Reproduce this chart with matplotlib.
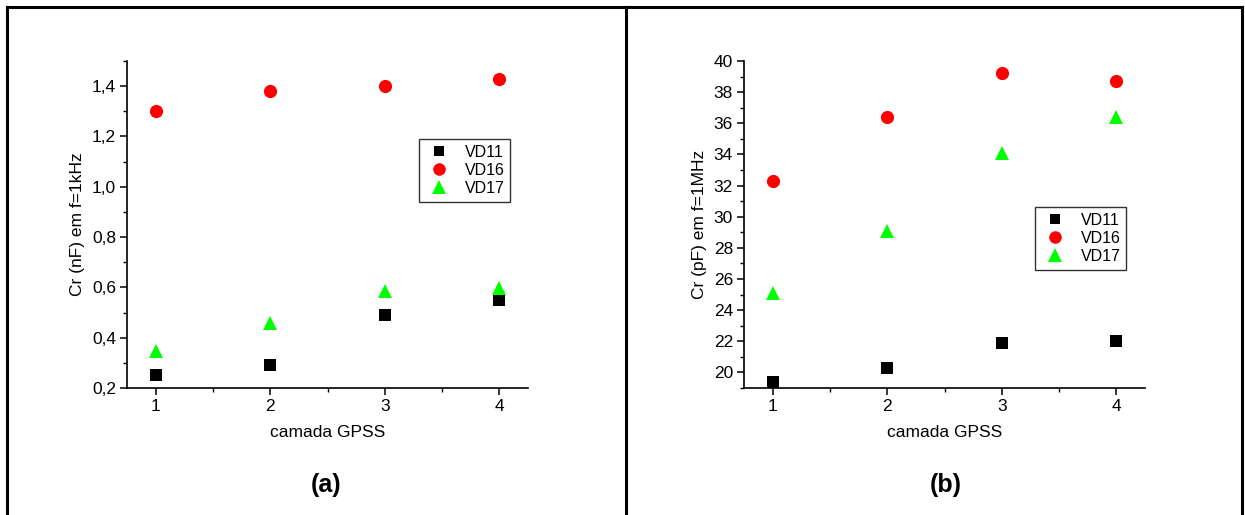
import matplotlib.pyplot as plt
from matplotlib.ticker import FuncFormatter, MultipleLocator
from matplotlib.lines import Line2D

plt.rcParams['font.family'] = ['Liberation Sans', 'DejaVu Sans']

camada = [1, 2, 3, 4]
series_names = ["VD11", "VD16", "VD17"]

# (a) Cr (nF) at 1 kHz
a_vd11 = [0.25, 0.29, 0.49, 0.55]
a_vd16 = [1.30, 1.38, 1.40, 1.43]
a_vd17 = [0.347, 0.457, 0.586, 0.596]

# (b) Cr (pF) at 1 MHz
b_vd11 = [19.4, 20.3, 21.9, 22.0]
b_vd16 = [32.3, 36.4, 39.2, 38.7]
b_vd17 = [25.1, 29.1, 34.1, 36.4]

W, H = 1245, 515
fig = plt.figure(figsize=(W / 100, H / 100), dpi=100)

# outer frame and separator
top = 1 - 7 / H
fig.add_artist(Line2D([7 / W, 1242 / W], [top, top], color='black', lw=2.2))
for xp in (7, 626, 1242):
    fig.add_artist(Line2D([xp / W, xp / W], [0, top], color='black', lw=2.2))


def ax_rect(left, right, top, bottom):
    return [left / W, 1 - bottom / H, (right - left) / W, (bottom - top) / H]


styles = [dict(marker='s', color='black', ms=8),
          dict(marker='o', color='#ff0000', ms=9.5),
          dict(marker='^', color='#00ff00', ms=10)]


def draw(ax, data, ylim, major, minor, fmt, ylabel, leg_anchor):
    for name, vals, st in zip(series_names, data, styles):
        ax.plot(camada, vals, linestyle='none', marker=st['marker'],
                color=st['color'], markersize=st['ms'], markeredgewidth=0,
                label=name)
    ax.set_xlim(0.75, 4.25)
    ax.set_ylim(*ylim)
    ax.set_xticks(camada)
    ax.xaxis.set_minor_locator(MultipleLocator(0.5))
    ax.yaxis.set_major_locator(MultipleLocator(major))
    ax.yaxis.set_minor_locator(MultipleLocator(minor))
    ax.yaxis.set_major_formatter(FuncFormatter(fmt))
    for s in ['top', 'right']:
        ax.spines[s].set_visible(False)
    for s in ['left', 'bottom']:
        ax.spines[s].set_linewidth(1.2)
    ax.tick_params(which='major', direction='out', length=5, width=1.1,
                   labelsize=12.5, pad=3)
    ax.tick_params(which='minor', direction='out', length=3, width=1.0)
    ax.set_xlabel("camada GPSS", fontsize=12.5, labelpad=8)
    ax.set_ylabel(ylabel, fontsize=12.5, labelpad=5)
    leg = ax.legend(loc='upper left', bbox_to_anchor=leg_anchor,
                    bbox_transform=fig.transFigure, fontsize=11.5,
                    frameon=True, fancybox=False, edgecolor='black',
                    handletextpad=0.7, borderpad=0.35, labelspacing=0.2,
                    handlelength=1.8, markerscale=0.95, borderaxespad=0)
    leg.get_frame().set_linewidth(1.0)


ax1 = fig.add_axes(ax_rect(127, 528, 61, 388))
draw(ax1, [a_vd11, a_vd16, a_vd17], (0.2, 1.5), 0.2, 0.1,
     lambda v, p: f"{v:.1f}".replace('.', ','),
     "Cr (nF) em f=1kHz", (419 / W, 1 - 139 / H))

ax2 = fig.add_axes(ax_rect(744, 1145, 61, 388))
draw(ax2, [b_vd11, b_vd16, b_vd17], (19.0, 40.0), 2, 1,
     lambda v, p: f"{v:.0f}",
     "Cr (pF) em f=1MHz", (1035 / W, 1 - 207 / H))

fig.text(326 / W, 1 - 485 / H, "(a)", fontsize=18, fontweight='bold',
         ha='center', va='center')
fig.text(946 / W, 1 - 485 / H, "(b)", fontsize=18, fontweight='bold',
         ha='center', va='center')

fig.savefig("out.png", dpi=100)
